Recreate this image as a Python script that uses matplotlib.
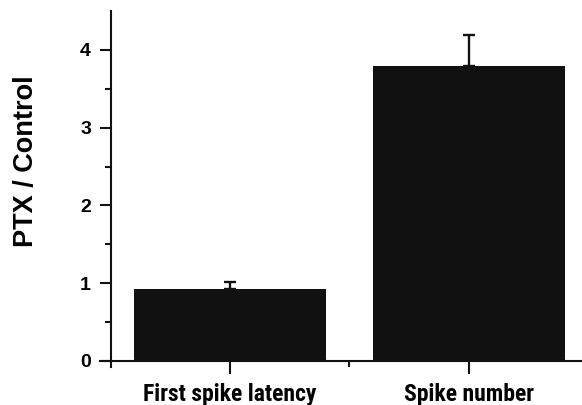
import matplotlib
matplotlib.use("Agg")
import matplotlib.pyplot as plt
from matplotlib.ticker import FixedLocator
from matplotlib import font_manager

categories = ["First spike latency", "Spike number"]
values = [0.92, 3.80]
errors = [0.10, 0.39]
yticks = [0, 1, 2, 3, 4]

names = {f.name for f in font_manager.fontManager.ttflist}
base = "Liberation Sans" if "Liberation Sans" in names else "DejaVu Sans"
narrow = "Roboto Condensed" if "Roboto Condensed" in names else base

fig = plt.figure(figsize=(5.82, 4.05), dpi=100)
ax = fig.add_axes([100/582, 0.0933, 482/582, 0.9726 - 0.0933])

pos = [1, 2]
ax.bar(pos, values, width=0.8, color="#111111", zorder=2)
ax.errorbar(pos, values, yerr=[[0]*len(errors), errors], fmt="none",
            ecolor="#111111", elinewidth=1.7, capsize=4, capthick=1.7, zorder=1)

ax.set_xlim(0.456, 2.473)
ax.set_ylim(-0.08, 4.5)
ax.spines["top"].set_visible(False)
ax.spines["right"].set_visible(False)
ax.spines["left"].set_position(("data", 0.5))
ax.spines["bottom"].set_position(("data", 0))
for s in ("left", "bottom"):
    ax.spines[s].set_linewidth(1.5)
    ax.spines[s].set_color("#111111")

ax.set_yticks(yticks)
ax.set_yticklabels([str(t) for t in yticks])
ax.yaxis.set_minor_locator(FixedLocator([0.5, 1.5, 2.5, 3.5]))
ax.set_xticks(pos)
ax.set_xticklabels(categories)
ax.xaxis.set_minor_locator(FixedLocator([1.5]))

ax.tick_params(axis="y", which="major", direction="out", length=8, width=1.5,
               pad=6, labelsize=14, color="#111111")
ax.tick_params(axis="y", which="minor", direction="out", length=4.5, width=1.5,
               color="#111111")
ax.tick_params(axis="x", which="major", direction="out", length=9, width=1.5,
               pad=7, color="#111111")
ax.tick_params(axis="x", which="minor", direction="out", length=4, width=1.5,
               color="#111111")
for lab in ax.get_yticklabels():
    lab.set_fontweight("bold"); lab.set_family(base)
for lab in ax.get_xticklabels():
    lab.set_fontweight("bold"); lab.set_family(narrow); lab.set_fontsize(17)

fig.text(26/582, 1 - 161/405, "PTX / Control", rotation=90, ha="center", va="center",
         fontsize=19.5, fontweight="bold", family=base)

fig.savefig("out.png", dpi=100)
